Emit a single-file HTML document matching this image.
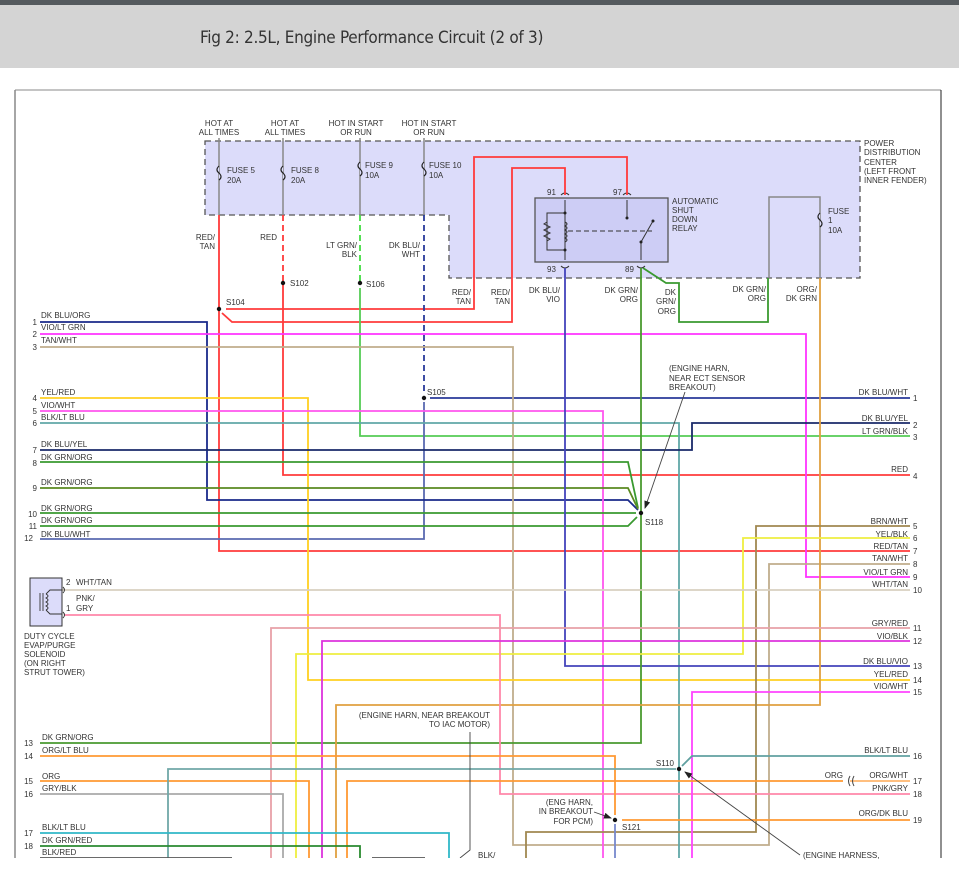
<!DOCTYPE html>
<html><head><meta charset="utf-8"><style>
html,body{margin:0;padding:0;background:#fff;}
body{width:959px;height:882px;overflow:hidden;position:relative;font-family:"Liberation Sans",sans-serif;}
#top{position:absolute;left:0;top:0;width:959px;height:5px;background:#555a5e;}
#hdr{position:absolute;left:0;top:5px;width:959px;height:63px;background:#d4d4d4;}
#title{position:absolute;left:200px;top:28px;font-size:17px;color:#333;font-family:"DejaVu Sans Condensed","Liberation Sans Narrow","Liberation Sans",sans-serif;letter-spacing:-0.3px;}
svg{position:absolute;left:0;top:0;}
text{font-family:"Liberation Sans",sans-serif;font-size:8px;fill:#333;}
</style></head><body>
<div id="top"></div><div id="hdr"></div>
<div id="title">Fig 2: 2.5L, Engine Performance Circuit (2 of 3)</div>
<svg width="959" height="882" viewBox="0 0 959 882">
<defs><clipPath id="c"><rect x="0" y="0" width="959" height="858"/></clipPath>
<marker id="ah" markerWidth="8" markerHeight="6" refX="7" refY="3" orient="auto" markerUnits="userSpaceOnUse"><path d="M0,0 L8,3 L0,6 z" fill="#222"/></marker></defs>
<line x1="15" y1="90" x2="941" y2="90" stroke="#888" stroke-width="1"/>
<line x1="15" y1="90" x2="15" y2="858" stroke="#888" stroke-width="1.5"/>
<line x1="941" y1="90" x2="941" y2="858" stroke="#222" stroke-width="1"/>
<g clip-path="url(#c)" fill="none" stroke-width="1.8" stroke-linejoin="miter">
<polygon points="205,141 860,141 860,278 449,278 449,215 205,215" fill="#dcdcfa" stroke="#555" stroke-width="1.3" stroke-dasharray="6,4"/>
<rect x="535" y="198" width="133" height="64" fill="#cdcdf5" stroke="#555" stroke-width="1.3"/>
<g stroke="#888" stroke-width="1.5">
<line x1="219" y1="138" x2="219" y2="215"/><line x1="283" y1="138" x2="283" y2="215"/>
<line x1="360" y1="138" x2="360" y2="215"/><line x1="424" y1="138" x2="424" y2="215"/>
<polyline points="769,278 769,197 820,197 820,278"/>
</g>
<g stroke="#222" stroke-width="1.2" fill="#dcdcfa">
<path d="M219,166 q-4,4 0,7 q4,4 0,7"/><path d="M283,166 q-4,4 0,7 q4,4 0,7"/>
<path d="M360,162 q-4,4 0,7 q4,4 0,7"/><path d="M424,162 q-4,4 0,7 q4,4 0,7"/>
<path d="M820,213 q-4,4 0,7 q4,4 0,7"/>
</g>
<g stroke="#333" stroke-width="1">
<line x1="565" y1="200" x2="565" y2="260"/><line x1="627" y1="200" x2="627" y2="218"/>
<polyline points="565,213 547,213 547,250 565,250"/>
<path d="M547,222 l-3,2 l6,3 l-6,3 l6,3 l-6,3 l6,3 l-3,2"/>
<path d="M565,222 q4,2 0,4 q4,2 0,4 q4,2 0,4 q4,2 0,4 q4,2 0,4"/>
<line x1="568" y1="231" x2="652" y2="231" stroke-dasharray="5,3"/>
<line x1="641" y1="242" x2="653" y2="221"/><line x1="641" y1="242" x2="641" y2="260"/>
</g>
<g fill="#222"><circle cx="565" cy="213" r="1.5"/><circle cx="565" cy="250" r="1.5"/><circle cx="627" cy="218" r="1.5"/><circle cx="641" cy="242" r="1.5"/><circle cx="653" cy="221" r="1.5"/></g>
<g stroke="#333" stroke-width="1"><path d="M561,195 q4,-4 8,0"/><path d="M623,195 q4,-4 8,0"/><path d="M561,266 q4,4 8,0"/><path d="M637,266 q4,4 8,0"/></g>
<g stroke="#ff3b3b">
<polyline points="219,215 219,551 910,551"/>
<polyline points="226,309 474,309 474,157 627,157 627,195"/>
<polyline points="222,313 232,322 512,322 512,168 565,168 565,195"/>
<line x1="283" y1="215" x2="283" y2="283" stroke-dasharray="6,4"/>
<polyline points="283,283 283,475 910,475"/>
</g>
<line x1="360" y1="215" x2="360" y2="283" stroke="#44dd44" stroke-dasharray="6,4"/>
<polyline points="360,288 360,436 910,436" stroke="#55cc55"/>
<line x1="424" y1="215" x2="424" y2="395" stroke="#2a3a9a" stroke-dasharray="6,4"/>
<line x1="430" y1="398" x2="910" y2="398" stroke="#2a3a9a"/>
<polyline points="40,539 424,539 424,402" stroke="#5a6ab0"/>
<polyline points="40,322 207,322 207,500 628,500 638,510" stroke="#1a2a8a"/>
<polyline points="40,334 806,334 806,577 910,577" stroke="#ff33ff"/>
<polyline points="40,347 513,347 513,845 769,845 769,564 910,564" stroke="#c0ad8c"/>
<polyline points="40,398 308,398 308,680 910,680" stroke="#ffd020"/>
<polyline points="40,411 603,411 603,858" stroke="#ff55ee"/>
<polyline points="40,423 679,423 679,858" stroke="#60a8a8"/>
<polyline points="40,450 692,450 692,423 910,423" stroke="#1a2a6a"/>
<polyline points="40,462 628,462 638,508" stroke="#3a9a30"/>
<polyline points="40,488 628,488 638,509" stroke="#5a8a20"/>
<polyline points="40,513 636,513" stroke="#3a9a30"/>
<polyline points="40,526 628,526 637,517" stroke="#3a9a30"/>
<polyline points="565,268 565,666 910,666" stroke="#4444bb"/>
<polyline points="641,268 641,743 40,743" stroke="#4a9a30"/>
<polyline points="643,268 666,283 679,283 679,322 768,322 768,278" stroke="#3a9a30"/>
<polyline points="820,278 820,705 336,705 336,858" stroke="#e0a040"/>
<polyline points="910,526 756,526 756,832 526,832 526,858" stroke="#a08850"/>
<polyline points="910,538 743,538 743,654 296,654 296,858" stroke="#eeee40"/>
<polyline points="30,590 910,590" stroke="#d8d0c0"/>
<polyline points="64,615 500,615 500,794 910,794" stroke="#ff88aa"/>
<polyline points="910,628 271,628 271,858" stroke="#e8a0a8"/>
<polyline points="910,641 322,641 322,858" stroke="#dd33dd"/>
<polyline points="910,692 692,692 692,858" stroke="#ff44ff"/>
<polyline points="40,756 615,756 615,815" stroke="#ff9933"/>
<line x1="615" y1="824" x2="615" y2="858" stroke="#7788cc"/>
<line x1="622" y1="820" x2="910" y2="820" stroke="#ff9933"/>
<polyline points="40,781 309,781 309,858" stroke="#ff9933"/>
<polyline points="347,858 347,781 843,781" stroke="#ff9933"/>
<line x1="850" y1="781" x2="910" y2="781" stroke="#ff9933" stroke-width="1.2"/>
<polyline points="40,794 283,794 283,858" stroke="#aaa"/>
<polyline points="168,858 168,769 676,769" stroke="#70a8a8"/>
<polyline points="682,766 692,756 910,756" stroke="#60a0a0"/>
<polyline points="40,833 449,833 449,858" stroke="#30b8c8"/>
<polyline points="40,846 360,846 360,858" stroke="#2a8a30"/>
<line x1="40" y1="858" x2="232" y2="858" stroke="#555"/>
<line x1="372" y1="858" x2="425" y2="858" stroke="#555"/>
<g stroke="#444" stroke-width="0.9">
<line x1="685" y1="392" x2="645" y2="508" marker-end="url(#ah)"/>
<polyline points="470,732 470,850 460,858"/>
<line x1="800" y1="855" x2="685" y2="772" marker-end="url(#ah)"/>
<line x1="594" y1="812" x2="611" y2="818" marker-end="url(#ah)"/>
</g>
<path d="M850,776 q-3,5 0,10 M854,776 q-3,5 0,10" stroke="#444" stroke-width="1"/>
<rect x="30" y="578" width="32" height="48" fill="#dcdcfa" stroke="#333" stroke-width="1"/>
<g stroke="#333" stroke-width="0.9"><line x1="40" y1="593" x2="40" y2="611"/><line x1="43" y1="593" x2="43" y2="611"/>
<path d="M46,594 q4,2 0,4 q4,2 0,4 q4,2 0,4 q4,2 0,4"/><polyline points="46,594 50,590 62,590"/><polyline points="46,610 50,614 62,614"/>
<path d="M63,587 q3,3 0,6 M63,612 q3,3 0,6"/></g>
</g>
<g fill="#111"><circle cx="219" cy="309" r="2.2"/><circle cx="283" cy="283" r="2.2"/><circle cx="360" cy="283" r="2.2"/><circle cx="424" cy="398" r="2.2"/><circle cx="641" cy="513" r="2.2"/><circle cx="679" cy="769" r="2.2"/><circle cx="615" cy="820" r="2.2"/></g>
<g text-anchor="middle">
<text x="219" y="126">HOT AT</text><text x="219" y="135">ALL TIMES</text>
<text x="285" y="126">HOT AT</text><text x="285" y="135">ALL TIMES</text>
<text x="356" y="126">HOT IN START</text><text x="356" y="135">OR RUN</text>
<text x="429" y="126">HOT IN START</text><text x="429" y="135">OR RUN</text>
</g>
<text x="227" y="173">FUSE 5</text><text x="227" y="183">20A</text>
<text x="291" y="173">FUSE 8</text><text x="291" y="183">20A</text>
<text x="365" y="168">FUSE 9</text><text x="365" y="178">10A</text>
<text x="429" y="168">FUSE 10</text><text x="429" y="178">10A</text>
<text x="828" y="214">FUSE</text><text x="828" y="223">1</text><text x="828" y="233">10A</text>
<text x="864" y="146">POWER</text><text x="864" y="155">DISTRIBUTION</text><text x="864" y="165">CENTER</text><text x="864" y="174">(LEFT FRONT</text><text x="864" y="183">INNER FENDER)</text>
<text x="672" y="204">AUTOMATIC</text><text x="672" y="213">SHUT</text><text x="672" y="222">DOWN</text><text x="672" y="231">RELAY</text>
<text x="547" y="195">91</text><text x="613" y="195">97</text><text x="547" y="272">93</text><text x="625" y="272">89</text>
<g text-anchor="end">
<text x="215" y="240">RED/</text><text x="215" y="249">TAN</text>
<text x="277" y="240">RED</text>
<text x="357" y="248">LT GRN/</text><text x="357" y="257">BLK</text>
<text x="420" y="248">DK BLU/</text><text x="420" y="257">WHT</text>
<text x="471" y="295">RED/</text><text x="471" y="304">TAN</text>
<text x="510" y="295">RED/</text><text x="510" y="304">TAN</text>
<text x="560" y="293">DK BLU/</text><text x="560" y="302">VIO</text>
<text x="638" y="293">DK GRN/</text><text x="638" y="302">ORG</text>
<text x="676" y="295">DK</text><text x="676" y="304">GRN/</text><text x="676" y="314">ORG</text>
<text x="766" y="292">DK GRN/</text><text x="766" y="301">ORG</text>
<text x="817" y="292">ORG/</text><text x="817" y="301">DK GRN</text>
<text x="908" y="395">DK BLU/WHT</text><text x="908" y="421">DK BLU/YEL</text><text x="908" y="434">LT GRN/BLK</text>
<text x="908" y="472">RED</text><text x="908" y="524">BRN/WHT</text><text x="908" y="537">YEL/BLK</text><text x="908" y="549">RED/TAN</text>
<text x="908" y="561">TAN/WHT</text><text x="908" y="575">VIO/LT GRN</text><text x="908" y="587">WHT/TAN</text>
<text x="908" y="626">GRY/RED</text><text x="908" y="639">VIO/BLK</text><text x="908" y="664">DK BLU/VIO</text>
<text x="908" y="677">YEL/RED</text><text x="908" y="689">VIO/WHT</text><text x="908" y="753">BLK/LT BLU</text>
<text x="908" y="778">ORG/WHT</text><text x="908" y="791">PNK/GRY</text><text x="908" y="816">ORG/DK BLU</text>
<text x="843" y="778">ORG</text>
<text x="490" y="718">(ENGINE HARN, NEAR BREAKOUT</text><text x="490" y="727">TO IAC MOTOR)</text>
<text x="593" y="805">(ENG HARN,</text><text x="593" y="814">IN BREAKOUT</text><text x="593" y="824">FOR PCM)</text>
<text x="674" y="766">S110</text>
<text x="37" y="325">1</text><text x="37" y="337">2</text><text x="37" y="350">3</text><text x="37" y="401">4</text><text x="37" y="414">5</text><text x="37" y="426">6</text>
<text x="37" y="453">7</text><text x="37" y="466">8</text><text x="37" y="491">9</text><text x="37" y="517">10</text><text x="37" y="529">11</text><text x="33" y="541">12</text>
<text x="33" y="746">13</text><text x="33" y="759">14</text><text x="33" y="784">15</text><text x="33" y="797">16</text><text x="33" y="836">17</text><text x="33" y="849">18</text>
</g>
<text x="913" y="401">1</text><text x="913" y="428">2</text><text x="913" y="440">3</text><text x="913" y="479">4</text>
<text x="913" y="529">5</text><text x="913" y="541">6</text><text x="913" y="554">7</text><text x="913" y="567">8</text><text x="913" y="580">9</text><text x="913" y="593">10</text>
<text x="913" y="631">11</text><text x="913" y="644">12</text><text x="913" y="669">13</text><text x="913" y="683">14</text><text x="913" y="695">15</text>
<text x="913" y="759">16</text><text x="913" y="784">17</text><text x="913" y="797">18</text><text x="913" y="823">19</text>
<text x="226" y="305">S104</text><text x="290" y="286">S102</text><text x="366" y="287">S106</text><text x="427" y="395">S105</text><text x="645" y="525">S118</text><text x="622" y="830">S121</text>
<text x="669" y="371">(ENGINE HARN,</text><text x="669" y="381">NEAR ECT SENSOR</text><text x="669" y="390">BREAKOUT)</text>
<text x="803" y="858">(ENGINE HARNESS,</text>
<text x="478" y="858">BLK/</text>
<g>
<text x="41" y="318">DK BLU/ORG</text><text x="41" y="330">VIO/LT GRN</text><text x="41" y="343">TAN/WHT</text>
<text x="41" y="395">YEL/RED</text><text x="41" y="408">VIO/WHT</text><text x="41" y="420">BLK/LT BLU</text>
<text x="41" y="447">DK BLU/YEL</text><text x="41" y="460">DK GRN/ORG</text><text x="41" y="485">DK GRN/ORG</text>
<text x="41" y="511">DK GRN/ORG</text><text x="41" y="523">DK GRN/ORG</text><text x="41" y="537">DK BLU/WHT</text>
<text x="42" y="740">DK GRN/ORG</text><text x="42" y="753">ORG/LT BLU</text><text x="42" y="779">ORG</text><text x="42" y="791">GRY/BLK</text>
<text x="42" y="830">BLK/LT BLU</text><text x="42" y="843">DK GRN/RED</text><text x="42" y="855">BLK/RED</text>
<text x="66" y="585">2</text><text x="76" y="585">WHT/TAN</text><text x="76" y="601">PNK/</text><text x="66" y="611">1</text><text x="76" y="611">GRY</text>
<text x="24" y="639">DUTY CYCLE</text><text x="24" y="648">EVAP/PURGE</text><text x="24" y="657">SOLENOID</text><text x="24" y="666">(ON RIGHT</text><text x="24" y="675">STRUT TOWER)</text>
</g>
</svg>
</body></html>
